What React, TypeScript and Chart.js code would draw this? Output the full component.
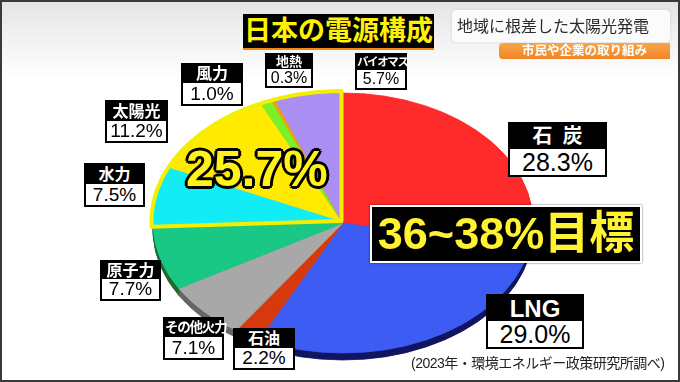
import React, { useEffect, useRef } from 'react';
import { Chart, registerables } from 'chart.js';

Chart.register(...registerables);

// ---- data ----
const categories = ['石炭', 'LNG', '石油', 'その他火力', '原子力', '水力', '太陽光', '風力', '地熱', 'バイオマス'];
const shares = [28.3, 29.0, 2.2, 7.1, 7.7, 7.5, 11.2, 1.0, 0.3, 5.7];
const renewableShare = 25.7;
const targetLabel = '36~38%目標';
const chartTitle = '日本の電源構成';
const programTitle = '地域に根差した太陽光発電';
const programSub = '市民や企業の取り組み';
const sourceNote = '(2023年・環境エネルギー政策研究所調べ)';

// ---- styles ----
const sliceColors = ['#ff2b2b', '#3c5cf4', '#d63a0c', '#a8a8a8', '#19c885', '#12ecf4', '#ffea00', '#7cee2a', '#f0a000', '#ab8ef2'];
const rimColors = ['#a01414', '#121660', '#7a2008', '#666666', '#1f6a2c', '#0a8a90', '#a09000', '#3a8a10', '#906000', '#6a50a0'];
const RENEW_FROM = 5;
const SQUASH = 0.684;
const DEPTH = 7;
const LIFT = { x: -1.5, y: -2 };
const FONT = '"Liberation Sans", "Noto Sans CJK JP", sans-serif';

const labelLayout = [
  { x: 508, y: 122, w: 99, hh: 25, vh: 26, nf: 20, vf: 25, ls: '0.5em' },
  { x: 486, y: 294, w: 98, hh: 25, vh: 26, nf: 24, vf: 25 },
  { x: 233, y: 328, w: 62, hh: 18, vh: 20, nf: 16, vf: 19 },
  { x: 163, y: 317, w: 61, hh: 18, vh: 21, nf: 13.5, vf: 19, ls: '-0.09em' },
  { x: 100, y: 260, w: 61, hh: 17, vh: 20, nf: 16, vf: 19 },
  { x: 84, y: 163, w: 61, hh: 19, vh: 21, nf: 16, vf: 19 },
  { x: 105, y: 100, w: 63, hh: 19, vh: 20, nf: 16, vf: 19 },
  { x: 181, y: 63, w: 62, hh: 18, vh: 21, nf: 16, vf: 19 },
  { x: 265, y: 53, w: 48, hh: 14, vh: 17, nf: 13, vf: 16 },
  { x: 355, y: 53, w: 52, hh: 15, vh: 18, nf: 11.5, vf: 16, ls: '-0.12em' },
];

// leader lines: label index, anchor on label, angle fraction, radius fraction
const leaders = [
  { i: 7, ax: 243, ay: 92, a: 0.5, f: 0.95 },
  { i: 8, ax: 289, ay: 88, a: 0.5, f: 0.95 },
  { i: 9, ax: 357, ay: 79, a: 0.5, f: 0.8 },
  { i: 6, ax: 168, ay: 122, a: 0.7, f: 0.95 },
];

const pie3d = {
  id: 'pie3d',
  beforeDatasetsDraw(chart: any) {
    const ctx: CanvasRenderingContext2D = chart.ctx;
    const arcs = chart.getDatasetMeta(0).data as any[];
    if (!arcs.length) return false;
    const cx = arcs[0].x;
    const cy = arcs[0].y;
    const squash = () => {
      ctx.translate(cx, cy);
      ctx.scale(1, SQUASH);
      ctx.translate(-cx, -cy);
    };
    const drawWith = (el: any, color: string) => {
      const o = Object.create(el);
      o.options = Object.assign({}, el.options, { backgroundColor: color, borderColor: color });
      el.draw.call(o, ctx);
    };
    // side rim
    for (let d = DEPTH; d >= 1; d--) {
      ctx.save();
      ctx.translate(0, d);
      squash();
      arcs.forEach((el, i) => drawWith(el, rimColors[i]));
      ctx.restore();
    }
    // top face
    ctx.save();
    squash();
    arcs.forEach((el, i) => { if (i < RENEW_FROM) el.draw(ctx); });
    ctx.restore();
    // renewables group, outlined
    ctx.save();
    ctx.translate(LIFT.x, LIFT.y);
    squash();
    arcs.forEach((el, i) => { if (i >= RENEW_FROM) el.draw(ctx); });
    const first = arcs[RENEW_FROM];
    const last = arcs[arcs.length - 1];
    ctx.beginPath();
    ctx.moveTo(cx, cy);
    ctx.arc(cx, cy, first.outerRadius, first.startAngle, last.endAngle);
    ctx.closePath();
    ctx.restore();
    ctx.save();
    ctx.strokeStyle = '#f4ee00';
    ctx.lineWidth = 4;
    ctx.lineJoin = 'round';
    ctx.stroke();
    ctx.restore();
    return false;
  },
  afterDatasetsDraw(chart: any) {
    const ctx: CanvasRenderingContext2D = chart.ctx;
    const arcs = chart.getDatasetMeta(0).data as any[];
    if (!arcs.length) return;
    ctx.save();
    ctx.strokeStyle = '#111';
    ctx.lineWidth = 1.3;
    leaders.forEach((l) => {
      const el = arcs[l.i];
      const ang = el.startAngle + l.a * (el.endAngle - el.startAngle);
      const r = el.outerRadius * l.f;
      const lift = l.i >= RENEW_FROM ? LIFT : { x: 0, y: 0 };
      const px = el.x + r * Math.cos(ang) + lift.x;
      const py = el.y + SQUASH * r * Math.sin(ang) + lift.y;
      ctx.beginPath();
      ctx.moveTo(l.ax, l.ay);
      ctx.lineTo(px, py);
      ctx.stroke();
    });
    ctx.restore();
  },
};

function LabelBox({ name, value, lay }: any) {
  return (
    <div
      style={{
        position: 'absolute',
        left: lay.x,
        top: lay.y,
        width: lay.w,
        border: '2px solid #000',
        background: '#000',
        boxSizing: 'border-box',
      }}
    >
      <div
        style={{
          height: lay.hh,
          lineHeight: lay.hh + 'px',
          color: '#fff',
          fontSize: lay.nf,
          fontWeight: 700,
          textAlign: 'center',
          letterSpacing: lay.ls || 0,
          paddingLeft: lay.ls && lay.ls[0] !== '-' ? lay.ls : 0,
          whiteSpace: 'nowrap',
        }}
      >
        {name}
      </div>
      <div
        style={{
          height: lay.vh,
          lineHeight: lay.vh + 'px',
          background: '#fff',
          color: '#000',
          fontSize: lay.vf,
          textAlign: 'center',
          whiteSpace: 'nowrap',
        }}
      >
        {value}
      </div>
    </div>
  );
}

export default function App() {
  const canvasRef = useRef<HTMLCanvasElement>(null);

  useEffect(() => {
    const chart = new Chart(canvasRef.current as HTMLCanvasElement, {
      type: 'pie',
      data: {
        labels: categories,
        datasets: [
          {
            data: shares,
            backgroundColor: sliceColors,
            borderColor: sliceColors,
            borderWidth: 1,
          },
        ],
      },
      options: {
        animation: false,
        responsive: false,
        radius: 190,
        layout: { padding: { left: 6, right: 0, top: 64, bottom: 0 } },
        plugins: { legend: { display: false }, tooltip: { enabled: false } },
      } as any,
      plugins: [pie3d as any],
    });
    return () => chart.destroy();
  }, []);

  const outline =
    '-2px -2px 0 #000, 2px -2px 0 #000, -2px 2px 0 #000, 2px 2px 0 #000, 0 -3px 0 #000, 0 3px 0 #000, -3px 0 0 #000, 3px 0 0 #000';

  return (
    <div
      style={{
        position: 'absolute',
        left: 0,
        top: 0,
        width: 680,
        height: 382,
        overflow: 'hidden',
        background: 'linear-gradient(to bottom, #e4e4e4 0px, #f2f2f2 40px, #ffffff 80px)',
        fontFamily: FONT,
      }}
    >
      <canvas ref={canvasRef} width={680} height={382} style={{ position: 'absolute', left: 0, top: 0 }} />

      {/* chart title */}
      <div
        style={{
          position: 'absolute',
          left: 243,
          top: 14,
          width: 191,
          height: 34,
          background: '#000',
          borderBottom: '2px solid #f08a10',
          color: '#fff200',
          fontSize: 27,
          fontWeight: 700,
          lineHeight: '34px',
          textAlign: 'center',
          whiteSpace: 'nowrap',
        }}
      >
        {chartTitle}
      </div>

      {/* program caption */}
      <div
        style={{
          position: 'absolute',
          left: 452,
          top: 10,
          width: 218,
          height: 32,
          background: '#fbfbfb',
          borderRadius: 4,
          boxShadow: '0 0 3px rgba(0,0,0,0.12)',
        }}
      />
      <div
        style={{
          position: 'absolute',
          left: 457,
          top: 16,
          fontSize: 16,
          color: '#2a2a2a',
          lineHeight: '22px',
          whiteSpace: 'nowrap',
        }}
      >
        {programTitle}
      </div>
      <div
        style={{
          position: 'absolute',
          left: 499,
          top: 43,
          width: 171,
          height: 16,
          borderRadius: '4px 0 0 4px',
          background: 'linear-gradient(to bottom, #f9a54a, #f08526)',
          color: '#fff',
          fontSize: 12.5,
          fontWeight: 700,
          lineHeight: '16px',
          textAlign: 'center',
          whiteSpace: 'nowrap',
        }}
      >
        {programSub}
      </div>

      {/* slice labels */}
      {categories.map((c, i) => (
        <LabelBox key={c} name={c} value={shares[i].toFixed(1) + '%'} lay={labelLayout[i]} />
      ))}

      {/* renewable total */}
      <div
        style={{
          position: 'absolute',
          left: 186,
          top: 141,
          fontSize: 50,
          fontWeight: 700,
          color: '#fff21a',
          textShadow: outline,
          lineHeight: '56px',
          whiteSpace: 'nowrap',
        }}
      >
        {renewableShare.toFixed(1) + '%'}
      </div>

      {/* target box */}
      <div
        style={{
          position: 'absolute',
          left: 370,
          top: 205,
          width: 272,
          height: 58,
          boxSizing: 'border-box',
          background: '#000',
          border: '2px solid #fff',
          boxShadow: '0 0 2px rgba(0,0,0,0.6)',
          color: '#fff230',
          fontSize: 45,
          fontWeight: 700,
          lineHeight: '54px',
          textAlign: 'center',
          whiteSpace: 'nowrap',
        }}
      >
        {targetLabel}
      </div>

      {/* source */}
      <div
        style={{
          position: 'absolute',
          left: 411,
          top: 354,
          fontSize: 14,
          letterSpacing: '-0.5px',
          color: '#222',
          lineHeight: '18px',
          whiteSpace: 'nowrap',
        }}
      >
        {sourceNote}
      </div>

      {/* frame */}
      <div
        style={{
          position: 'absolute',
          left: 0,
          top: 0,
          width: 680,
          height: 382,
          boxSizing: 'border-box',
          border: '2px solid #3a3a3a',
          pointerEvents: 'none',
        }}
      />
    </div>
  );
}
